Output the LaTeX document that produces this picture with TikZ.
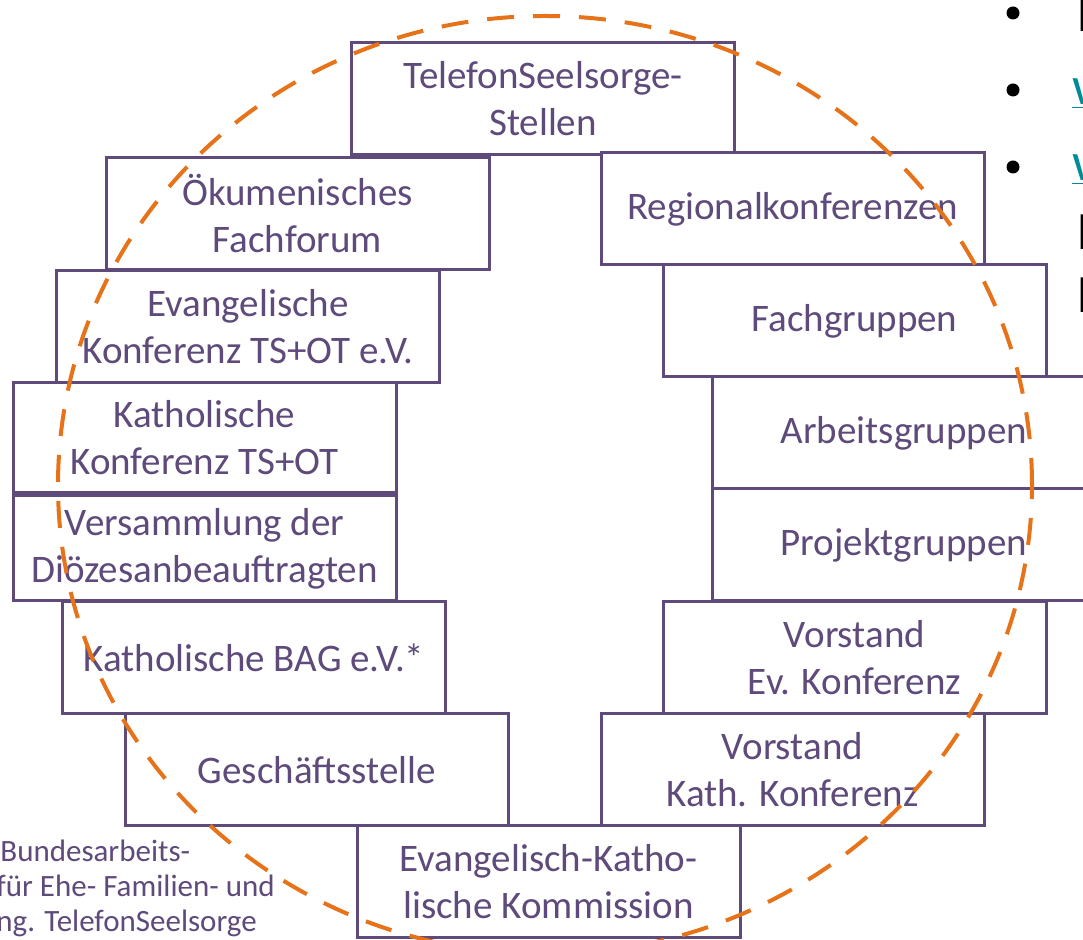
\documentclass[tikz,border=0pt]{standalone}
\usepackage{fontspec}
\setmainfont{Carlito}
\definecolor{lila}{RGB}{94,74,123}
\definecolor{ringorange}{RGB}{230,115,25}
\definecolor{linkteal}{RGB}{0,140,150}
\tikzset{
  gremium/.style={draw=lila, line width=1.5pt, fill=white, text=lila, minimum width=191.5pt,
    minimum height=56pt, align=center, inner sep=0pt, font=\fontsize{19.5}{23.5}\selectfont},
  ring/.style={draw=ringorange, line width=2pt, dash pattern=on 13.5pt off 9.5pt},
  fussnote/.style={anchor=base west, text=lila, inner sep=0pt, font=\fontsize{15.5}{18}\selectfont},
  punkt/.style={circle, fill=black, inner sep=0pt, minimum size=6.5pt},
  rand/.style={anchor=base west, inner sep=0pt, font=\fontsize{27}{32}\selectfont}
}
\begin{document}
\begin{tikzpicture}[x=0.5pt, y=-0.5pt]
\useasboundingbox (0,0) rectangle (1083,940);
\fill[white] (0,0) rectangle (1083,940);
\clip (0,0) rectangle (1083,940);

\node[gremium] (stellen) at (543,99) {TelefonSeelsorge-\\Stellen};
\node[gremium] (oekum) at (297.5,214) {Ökumenisches\\Fachforum};
\node[gremium] (regio) at (792.5,209) {Regionalkonferenzen};
\node[gremium] (evkonf) at (248,326.5) {Evangelische\\Konferenz TS+OT e.V.};
\node[gremium] (fachgr) at (854.5,321) {Fachgruppen};
\node[gremium, minimum height=55pt] (kathkonf) at (204.5,438) {Katholische\\Konferenz TS+OT};
\node[gremium, minimum height=52.5pt] (dioez) at (204.5,548.5) {Versammlung der\\Diözesanbeauftragten};
\node[gremium] (arbgr) at (904,433) {Arbeitsgruppen};
\node[gremium] (projgr) at (904,545) {Projektgruppen};
\node[gremium] (kbag) at (254,657.5) {Katholische BAG e.V.*};
\node[gremium] (vorev) at (854.5,657.5) {Vorstand\\Ev. Konferenz};
\node[gremium] (gst) at (317,770) {Geschäftsstelle};
\node[gremium] (vorkath) at (792.5,770) {Vorstand\\Kath. Konferenz};
\node[gremium] (kommission) at (548.5,882) {Evangelisch-Katho-\\lische Kommission};

\draw[ring] (545,485) ellipse [x radius=243.5pt, y radius=234.5pt];

\node[fussnote] (fn1) at (0,862) {Bundesarbeits-};
\node[fussnote] (fn2) at (-4,897) {für Ehe- Familien- und};
\node[fussnote] (fn3) at (-4,932) {ng. TelefonSeelsorge};

\node[punkt] (bul1) at (1013,13) {};
\node[punkt] (bul2) at (1013,90) {};
\node[punkt] (bul3) at (1013,167) {};
\node[rand] (zeile1) at (1077,32) {L};
\node[rand, text=linkteal] (zeile2) at (1072,105) {\underline{w}};
\node[rand, text=linkteal] (zeile3) at (1072,181) {\underline{w}};
\node[rand] (zeile4) at (1077,250) {L};
\node[rand] (zeile5) at (1077,313) {L};
\end{tikzpicture}
\end{document}
